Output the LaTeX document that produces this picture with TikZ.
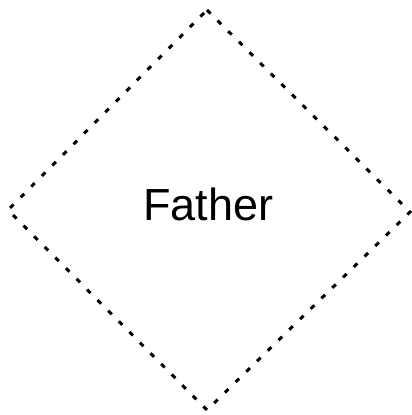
\documentclass[tikz,border=0pt]{standalone}
\usepackage{fontspec}
\setmainfont{Liberation Sans}
\begin{document}
\begin{tikzpicture}[x=1pt,y=1pt,
  dia/.style={draw=black, line width=3pt, dash pattern=on 5pt off 10pt, line join=miter},
  lbl/.style={font=\fontsize{45}{54}\selectfont, inner sep=0pt, anchor=center}]
\useasboundingbox (0,0) rectangle (412,415);
\coordinate (t) at (207,405);
\coordinate (r) at (410,203);
\coordinate (b) at (207,5);
\coordinate (l) at (8,205);
\draw[dia] (t) -- (r) -- (b) -- (l) -- cycle;
\node[lbl] (father) at (208.5,211) {\vphantom{F}Father};
\end{tikzpicture}
\end{document}
